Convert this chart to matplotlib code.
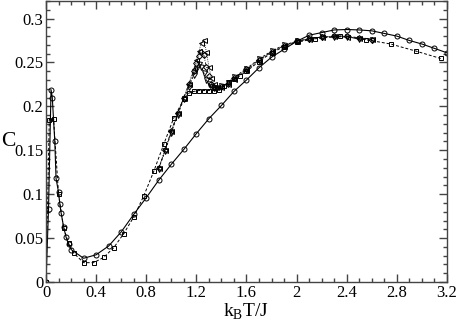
import numpy as np
import matplotlib
matplotlib.use('Agg')
import matplotlib.pyplot as plt
from matplotlib.ticker import MultipleLocator

# circles, solid line
T_a = [0.0, 0.02, 0.04, 0.05, 0.07, 0.08, 0.10, 0.11, 0.12, 0.14, 0.16, 0.18,
       0.20, 0.30, 0.40, 0.50, 0.60, 0.70, 0.80, 0.90, 1.00, 1.10, 1.20, 1.30,
       1.40, 1.50, 1.60, 1.70, 1.80, 1.90, 2.00, 2.10, 2.20, 2.30, 2.40, 2.50,
       2.60, 2.70, 2.80, 2.90, 3.00, 3.10, 3.20]
C_a = [0.0, 0.083, 0.219, 0.210, 0.160, 0.118, 0.102, 0.089, 0.079, 0.063,
       0.051, 0.043, 0.037, 0.027, 0.031, 0.041, 0.057, 0.077, 0.096, 0.116,
       0.134, 0.151, 0.169, 0.186, 0.201, 0.217, 0.230, 0.244, 0.256, 0.265,
       0.274, 0.281, 0.284, 0.287, 0.2875, 0.287, 0.286, 0.283, 0.280, 0.275,
       0.271, 0.266, 0.261]

# squares, dashed line
T_b = [0.0, 0.026, 0.06, 0.10, 0.14, 0.18, 0.22, 0.30, 0.38, 0.46, 0.54, 0.62,
       0.70, 0.78, 0.86, 0.94, 1.02, 1.10, 1.14, 1.18, 1.22, 1.26, 1.30, 1.34,
       1.38, 1.42, 1.46, 1.50, 1.55, 1.60, 1.70, 1.80, 1.90, 2.00, 2.15, 2.35,
       2.55, 2.75, 2.95, 3.15]
C_b = [0.0, 0.185, 0.186, 0.100, 0.062, 0.044, 0.033, 0.022, 0.022, 0.028,
       0.039, 0.055, 0.074, 0.098, 0.126, 0.157, 0.187, 0.208, 0.215, 0.217,
       0.218, 0.218, 0.218, 0.218, 0.219, 0.223, 0.228, 0.231, 0.235, 0.240,
       0.251, 0.261, 0.268, 0.273, 0.277, 0.280, 0.276, 0.271, 0.263, 0.2545]

# larger sizes near the peak
T_c = [0.90, 0.95, 1.00, 1.05, 1.10, 1.14, 1.18, 1.20, 1.22, 1.24, 1.26, 1.28,
       1.30, 1.32, 1.34, 1.36, 1.40, 1.45, 1.50, 1.60, 1.70, 1.80, 1.90, 2.00,
       2.10, 2.20, 2.30, 2.40, 2.50, 2.60]
C_c = [0.129, 0.149, 0.170, 0.190, 0.208, 0.222, 0.236, 0.243, 0.248, 0.245,
       0.238, 0.230, 0.225, 0.222, 0.221, 0.221, 0.223, 0.227, 0.233, 0.243,
       0.254, 0.263, 0.270, 0.274, 0.277, 0.279, 0.279, 0.279, 0.277, 0.275]
C_d = [0.130, 0.150, 0.172, 0.192, 0.210, 0.225, 0.240, 0.249, 0.257, 0.262,
       0.258, 0.245, 0.234, 0.226, 0.222, 0.221, 0.222, 0.226, 0.232, 0.242,
       0.253, 0.262, 0.269, 0.274, 0.277, 0.279, 0.280, 0.280, 0.278, 0.276]
C_e = [0.130, 0.150, 0.172, 0.192, 0.210, 0.226, 0.243, 0.253, 0.263, 0.272,
       0.276, 0.262, 0.245, 0.232, 0.225, 0.222, 0.222, 0.226, 0.231, 0.241,
       0.252, 0.262, 0.269, 0.274, 0.277, 0.279, 0.280, 0.279, 0.278, 0.277]

plt.rcParams['font.family'] = ['Liberation Serif', 'DejaVu Serif']
plt.rcParams['mathtext.fontset'] = 'custom'
plt.rcParams['mathtext.rm'] = 'Liberation Serif'

fig = plt.figure(figsize=(4.57, 3.21), dpi=100)
ax = fig.add_axes([0.1007, 0.1215, 0.8773, 0.8755])

mk = dict(markerfacecolor='none', markeredgecolor='black', markersize=3.6,
          markeredgewidth=0.7, color='black')
ax.plot(T_c, C_c, ls=(0, (3, 2)), lw=0.6, marker='v', **mk)
ax.plot(T_c, C_d, ls=(0, (4, 2, 1, 2)), lw=0.6, marker='D', **dict(mk, markersize=3))
ax.plot(T_c, C_e, ls=(0, (1, 1.5)), lw=0.6, marker='<', **mk)
ax.plot(T_b, C_b, ls=(0, (3, 2)), lw=0.7, marker='s', **dict(mk, markersize=3.3))
ax.plot(T_a, C_a, ls='-', lw=0.8, marker='o', **mk)

ax.set_xlim(0, 3.2)
ax.set_ylim(0, 0.32)
ax.xaxis.set_major_locator(MultipleLocator(0.4))
ax.xaxis.set_minor_locator(MultipleLocator(0.1))
ax.yaxis.set_major_locator(MultipleLocator(0.05))
ax.yaxis.set_minor_locator(MultipleLocator(0.01))
ax.xaxis.set_major_formatter(matplotlib.ticker.FuncFormatter(lambda v, p: '%g' % round(v, 2)))
ax.yaxis.set_major_formatter(matplotlib.ticker.FuncFormatter(lambda v, p: '%g' % round(v, 3)))
ax.tick_params(which='both', direction='in', top=True, right=True,
               labelsize=12, color='#444444', pad=2)
ax.tick_params(which='major', length=6, width=1)
ax.tick_params(which='minor', length=3, width=1)
for s in ax.spines.values():
    s.set_linewidth(1)
    s.set_color('#444444')

ax.set_xlabel(r'k$_{\mathrm{B}}$T/J', fontsize=14, va='baseline')
ax.xaxis.set_label_coords(0.5, -0.123)
ax.set_ylabel('C', fontsize=15.5, rotation=0, va='center', ha='center')
ax.yaxis.set_label_coords(-0.095, 0.5)

fig.savefig('out.png', dpi=100)
